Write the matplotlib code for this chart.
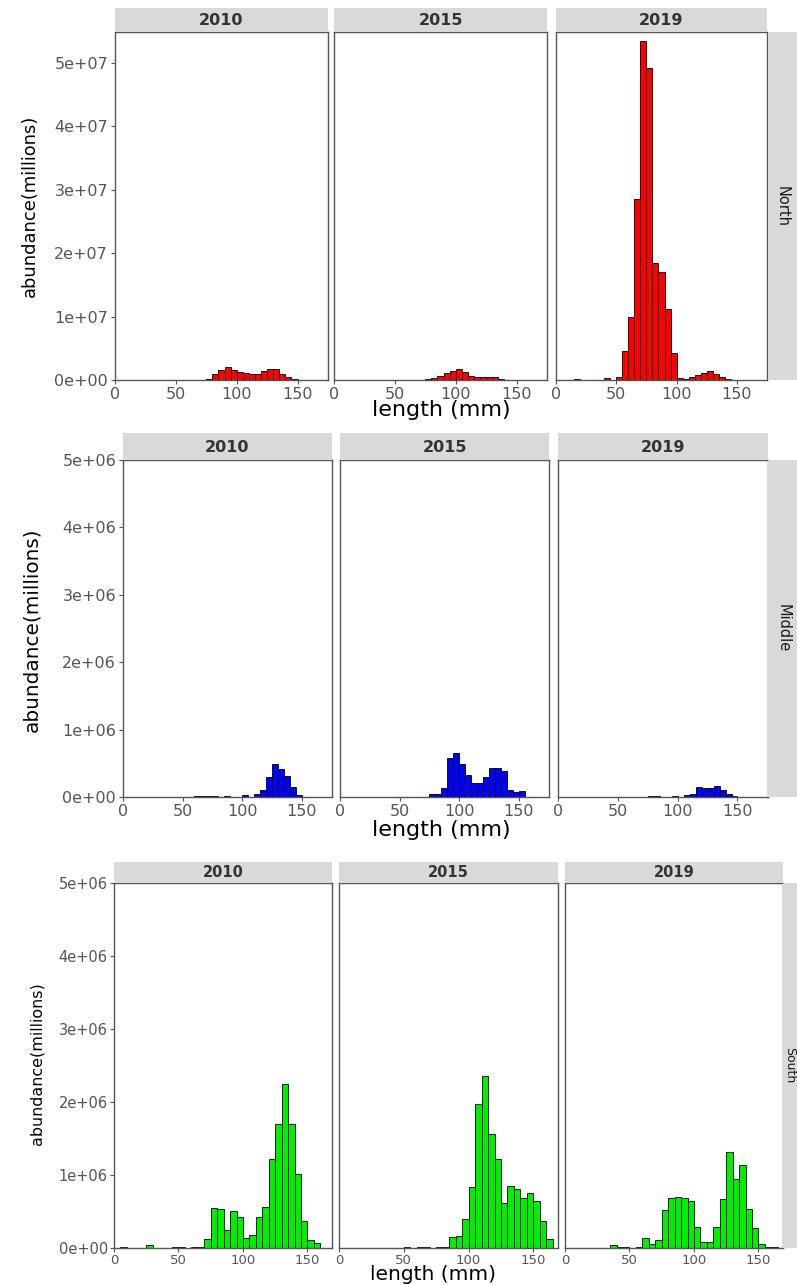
import matplotlib
matplotlib.use("Agg")
import matplotlib.pyplot as plt
from matplotlib import font_manager

W, H = 797, 1285

years = ["2010", "2015", "2019"]
regions = ["North", "Middle", "South"]

# left edge of each 5 mm length class
length_bins = [0, 5, 10, 15, 20, 25, 30, 35, 40, 45, 50, 55, 60, 65, 70, 75, 80, 85,
               90, 95, 100, 105, 110, 115, 120, 125, 130, 135, 140, 145, 150, 155, 160, 165, 170]

# abundance per length class, in millions
north_2010 = [0, 0, 0, 0, 0, 0, 0, 0, 0, 0, 0, 0, 0, 0, 0,
              0.2, 0.9, 1.6, 2.05, 1.6, 1.3, 1.05, 0.9, 1.0, 1.4, 1.7, 1.7, 0.9, 0.5, 0.2,
              0, 0, 0, 0, 0]
north_2015 = [0, 0, 0, 0, 0, 0, 0, 0, 0, 0, 0, 0, 0, 0, 0,
              0.1, 0.3, 0.6, 1.05, 1.4, 1.8, 1.3, 0.65, 0.45, 0.45, 0.45, 0.4, 0.2, 0.05, 0,
              0, 0.03, 0, 0, 0]
north_2019 = [0, 0, 0, 0.15, 0, 0, 0, 0, 0.25, 0, 0.4, 4.6, 9.9, 28.5, 53.5,
              49.2, 18.5, 17.0, 11.2, 4.3, 0.3, 0.1, 0.4, 0.8, 1.1, 1.45, 0.9, 0.5, 0.2, 0.05,
              0, 0, 0, 0, 0]
middle_2010 = [0, 0, 0, 0, 0, 0, 0, 0, 0, 0, 0, 0, 0.01, 0.01, 0.01,
               0.01, 0, 0.02, 0, 0, 0.03, 0, 0.05, 0.10, 0.29, 0.49, 0.42, 0.31, 0.15, 0.03,
               0, 0, 0, 0, 0]
middle_2015 = [0, 0, 0, 0, 0, 0, 0, 0, 0, 0, 0, 0, 0, 0, 0,
               0.04, 0.04, 0.14, 0.58, 0.66, 0.49, 0.32, 0.21, 0.21, 0.29, 0.43, 0.43, 0.39, 0.10, 0.08,
               0.09, 0, 0, 0, 0]
middle_2019 = [0, 0, 0, 0, 0, 0, 0, 0, 0, 0, 0, 0, 0, 0, 0,
               0.015, 0.02, 0, 0, 0.01, 0, 0.03, 0.05, 0.15, 0.13, 0.13, 0.16, 0.10, 0.05, 0.02,
               0, 0, 0, 0, 0]
south_2010 = [0, 0.01, 0, 0, 0, 0.04, 0, 0, 0, 0.02, 0.01, 0, 0.02, 0.02, 0.12,
              0.55, 0.53, 0.25, 0.51, 0.42, 0.14, 0.18, 0.43, 0.56, 1.22, 1.70, 2.25, 1.70, 1.01, 0.37,
              0.11, 0.07, 0, 0, 0]
south_2015 = [0, 0, 0, 0, 0, 0, 0, 0, 0, 0, 0.01, 0, 0.01, 0.01, 0,
              0.02, 0.02, 0.15, 0.17, 0.40, 0.83, 1.97, 2.36, 1.56, 1.22, 0.62, 0.85, 0.81, 0.68, 0.76,
              0.65, 0.37, 0.12, 0, 0]
south_2019 = [0, 0, 0, 0, 0, 0, 0, 0.04, 0.01, 0.01, 0, 0.02, 0.14, 0.05, 0.11,
              0.52, 0.69, 0.70, 0.68, 0.64, 0.29, 0.08, 0.08, 0.29, 0.67, 1.31, 0.95, 1.14, 0.53, 0.27,
              0.05, 0.01, 0.01, 0, 0]

abundance = {
    "North": [north_2010, north_2015, north_2019],
    "Middle": [middle_2010, middle_2015, middle_2019],
    "South": [south_2010, south_2015, south_2019],
}
y_max = {"North": 5.49e7, "Middle": 5e6, "South": 5e6}
y_step = {"North": 1e7, "Middle": 1e6, "South": 1e6}
x_max = {"North": 175, "Middle": 175.5, "South": 169}
fill = {"North": "#ff0000", "Middle": "#0000ff", "South": "#00ee00"}

# pixel layout of the three stacked pictures
panel_x = {
    "North": [(115, 328), (334, 547), (556, 767)],
    "Middle": [(123, 332), (340, 549), (558, 768)],
    "South": [(114, 332), (339, 558), (565, 783)],
}
panel_y = {"North": (32, 380), "Middle": (460, 797), "South": (883, 1248)}
strip_top = {"North": 8, "Middle": 433, "South": 862}
side_strip_x = {"North": 768, "Middle": 768, "South": 783}
side_text_x = {"North": 782, "Middle": 783, "South": 790}
ylab_pos = {"North": (29.5, 206, 182), "Middle": (31.5, 630, 205), "South": (37.5, 1064, 162)}
xlab = {"North": (441, 410, 16, "center"), "Middle": (441, 830, 16, "center"),
        "South": (433, 1284, 14.5, "bottom")}
xtick_size = {"North": 11.5, "Middle": 11.5, "South": 9.5}
ytick_size = {"North": 11.5, "Middle": 11.5, "South": 10.5}
tick_pad = {"North": 2, "Middle": 2, "South": 1.5}
strip_size = {"North": 11.5, "Middle": 11.5, "South": 10.5}
side_size = {"North": 10.5, "Middle": 10.5, "South": 9}

grey_txt = "#555555"
names = {f.name for f in font_manager.fontManager.ttflist}
narrow = "Liberation Sans Narrow" if "Liberation Sans Narrow" in names else "DejaVu Sans"


def px_axes(fig, x0, y0, x1, y1):
    return fig.add_axes([x0 / W, 1 - y1 / H, (x1 - x0) / W, (y1 - y0) / H])


def blank(ax, color):
    ax.set_facecolor(color)
    ax.set_xticks([])
    ax.set_yticks([])
    for s in ax.spines.values():
        s.set_visible(False)


fig = plt.figure(figsize=(W / 100, H / 100), dpi=100)
renderer = fig.canvas.get_renderer()

for region in regions:
    top, bottom = panel_y[region]
    for i, year in enumerate(years):
        x0, x1 = panel_x[region][i]
        ax = px_axes(fig, x0, top, x1, bottom)
        values = abundance[region][i]
        lefts = [b for b, v in zip(length_bins, values) if v > 0]
        heights = [v * 1e6 for v in values if v > 0]
        ax.bar(lefts, heights, width=5, align="edge", color=fill[region],
               edgecolor="black", linewidth=0.6)
        ax.set_xlim(0, x_max[region])
        ax.set_ylim(0, y_max[region])
        ax.set_xticks([0, 50, 100, 150])
        yt = [k * y_step[region] for k in range(6)]
        ax.set_yticks(yt)
        if i == 0:
            ax.set_yticklabels([f"{v:.0e}" for v in yt])
        else:
            ax.tick_params(axis="y", left=False, labelleft=False)
        ax.tick_params(direction="out", length=3, width=0.8, color=grey_txt,
                       labelcolor=grey_txt, pad=tick_pad[region])
        ax.tick_params(axis="x", labelsize=xtick_size[region])
        ax.tick_params(axis="y", labelsize=ytick_size[region])
        for s in ax.spines.values():
            s.set_color("#555555")
            s.set_linewidth(1.0)

        # facet strip on top
        st = px_axes(fig, x0, strip_top[region], x1, top)
        blank(st, "#d9d9d9")
        st.text(0.5, 0.48, year, ha="center", va="center", fontsize=strip_size[region],
                fontweight="bold", color="#333333", transform=st.transAxes)

    # region strip on the right, cut by the picture edge
    side = px_axes(fig, side_strip_x[region], top, 810, bottom)
    blank(side, "#d9d9d9")
    fig.text(side_text_x[region] / W, 1 - (top + bottom) / 2 / H, region, rotation=-90,
             ha="center", va="center", fontsize=side_size[region], color="#1a1a1a", family=narrow)

    lx, ly, length = ylab_pos[region]
    t = fig.text(lx / W, 1 - ly / H, "abundance(millions)", rotation=90, ha="center",
                 va="center", fontsize=16, color="black", family=narrow)
    bb = t.get_window_extent(renderer)
    t.set_fontsize(16 * length / bb.height)

    xx, xy, xs, xva = xlab[region]
    fig.text(xx / W, 1 - xy / H, "length (mm)", ha="center", va=xva,
             fontsize=xs, color="black")

fig.savefig("out.png", dpi=100, facecolor="white")
